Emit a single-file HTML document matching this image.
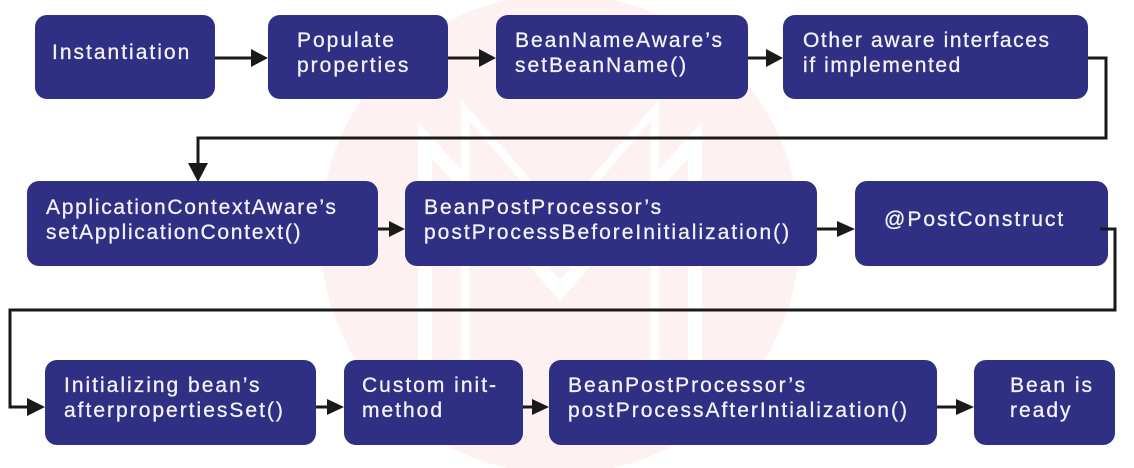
<!DOCTYPE html>
<html><head><style>
body{margin:0;width:1134px;height:468px;background:#fff;position:relative;overflow:hidden;font-family:"Liberation Sans",sans-serif}
.b{position:absolute;background:rgba(40,40,128,0.97);border-radius:12px}
.t{position:absolute;color:#f4f2f8;font-size:21px;line-height:25px;letter-spacing:2px;white-space:nowrap;-webkit-text-stroke:0.3px #f4f2f8}
svg{position:absolute;left:0;top:0}
</style></head><body>
<svg width="1134" height="468">
<circle cx="560" cy="234" r="240" fill="#fdf1f2"/>
<g fill="none" stroke="#fff" stroke-width="14">
<path d="M425 440 V140 L560 290 L695 140 V440"/>
<path d="M465 440 V110 L560 220 L655 110 V440" stroke-width="8"/>
</g>
</svg>
<div class="b" style="left:35px;top:15px;width:180px;height:84px"></div>
<div class="b" style="left:268px;top:15px;width:180px;height:84px"></div>
<div class="b" style="left:496px;top:15px;width:252px;height:84px"></div>
<div class="b" style="left:783px;top:15px;width:305px;height:84px"></div>
<div class="b" style="left:27px;top:181px;width:351px;height:85px"></div>
<div class="b" style="left:405px;top:181px;width:412px;height:85px"></div>
<div class="b" style="left:855px;top:181px;width:253px;height:85px"></div>
<div class="b" style="left:45px;top:360px;width:271px;height:85px"></div>
<div class="b" style="left:344px;top:360px;width:179px;height:85px"></div>
<div class="b" style="left:549px;top:360px;width:388px;height:85px"></div>
<div class="b" style="left:974px;top:360px;width:141px;height:85px"></div>

<div class="t" style="left:52px;top:40px">Instantiation</div>
<div class="t" style="left:297px;top:28px">Populate<br>properties</div>
<div class="t" style="left:515px;top:28px">BeanNameAware’s<br>setBeanName()</div>
<div class="t" style="left:803px;top:28px;letter-spacing:1.6px">Other aware interfaces<br>if implemented</div>
<div class="t" style="left:46px;top:195px;letter-spacing:1.7px">ApplicationContextAware’s<br>setApplicationContext()</div>
<div class="t" style="left:424px;top:195px">BeanPostProcessor’s<br>postProcessBeforeInitialization()</div>
<div class="t" style="left:884px;top:207px">@PostConstruct</div>
<div class="t" style="left:64px;top:373px">Initializing bean’s<br>afterpropertiesSet()</div>
<div class="t" style="left:362px;top:373px">Custom init-<br>method</div>
<div class="t" style="left:568px;top:373px">BeanPostProcessor’s<br>postProcessAfterIntialization()</div>
<div class="t" style="left:1010px;top:373px">Bean is<br>ready</div>

<svg width="1134" height="468">
<g stroke="#1a1a1a" stroke-width="3" fill="none">
<path d="M215 58 H252"/><path d="M448 58 H480"/><path d="M748 58 H767"/>
<path d="M1088 58 H1106 V138 H198 V165"/>
<path d="M378 229 H390"/><path d="M817 229 H838"/>
<path d="M1100 229 H1115 V310 H10 V407 H28"/>
<path d="M316 407 H328"/><path d="M523 407 H533"/><path d="M937 407 H957"/>
</g>
<g fill="#1a1a1a">
<path d="M251 49 L268 58 L251 67Z"/>
<path d="M479 49 L496 58 L479 67Z"/>
<path d="M766 49 L783 58 L766 67Z"/>
<path d="M188 163 L198 182 L208 163Z"/>
<path d="M389 221 L405 229 L389 237Z"/>
<path d="M837 221 L855 229 L837 237Z"/>
<path d="M27 398 L45 407 L27 416Z"/>
<path d="M327 399 L344 407 L327 415Z"/>
<path d="M532 399 L549 407 L532 415Z"/>
<path d="M956 399 L974 407 L956 415Z"/>
</g>
</svg>
</body></html>
